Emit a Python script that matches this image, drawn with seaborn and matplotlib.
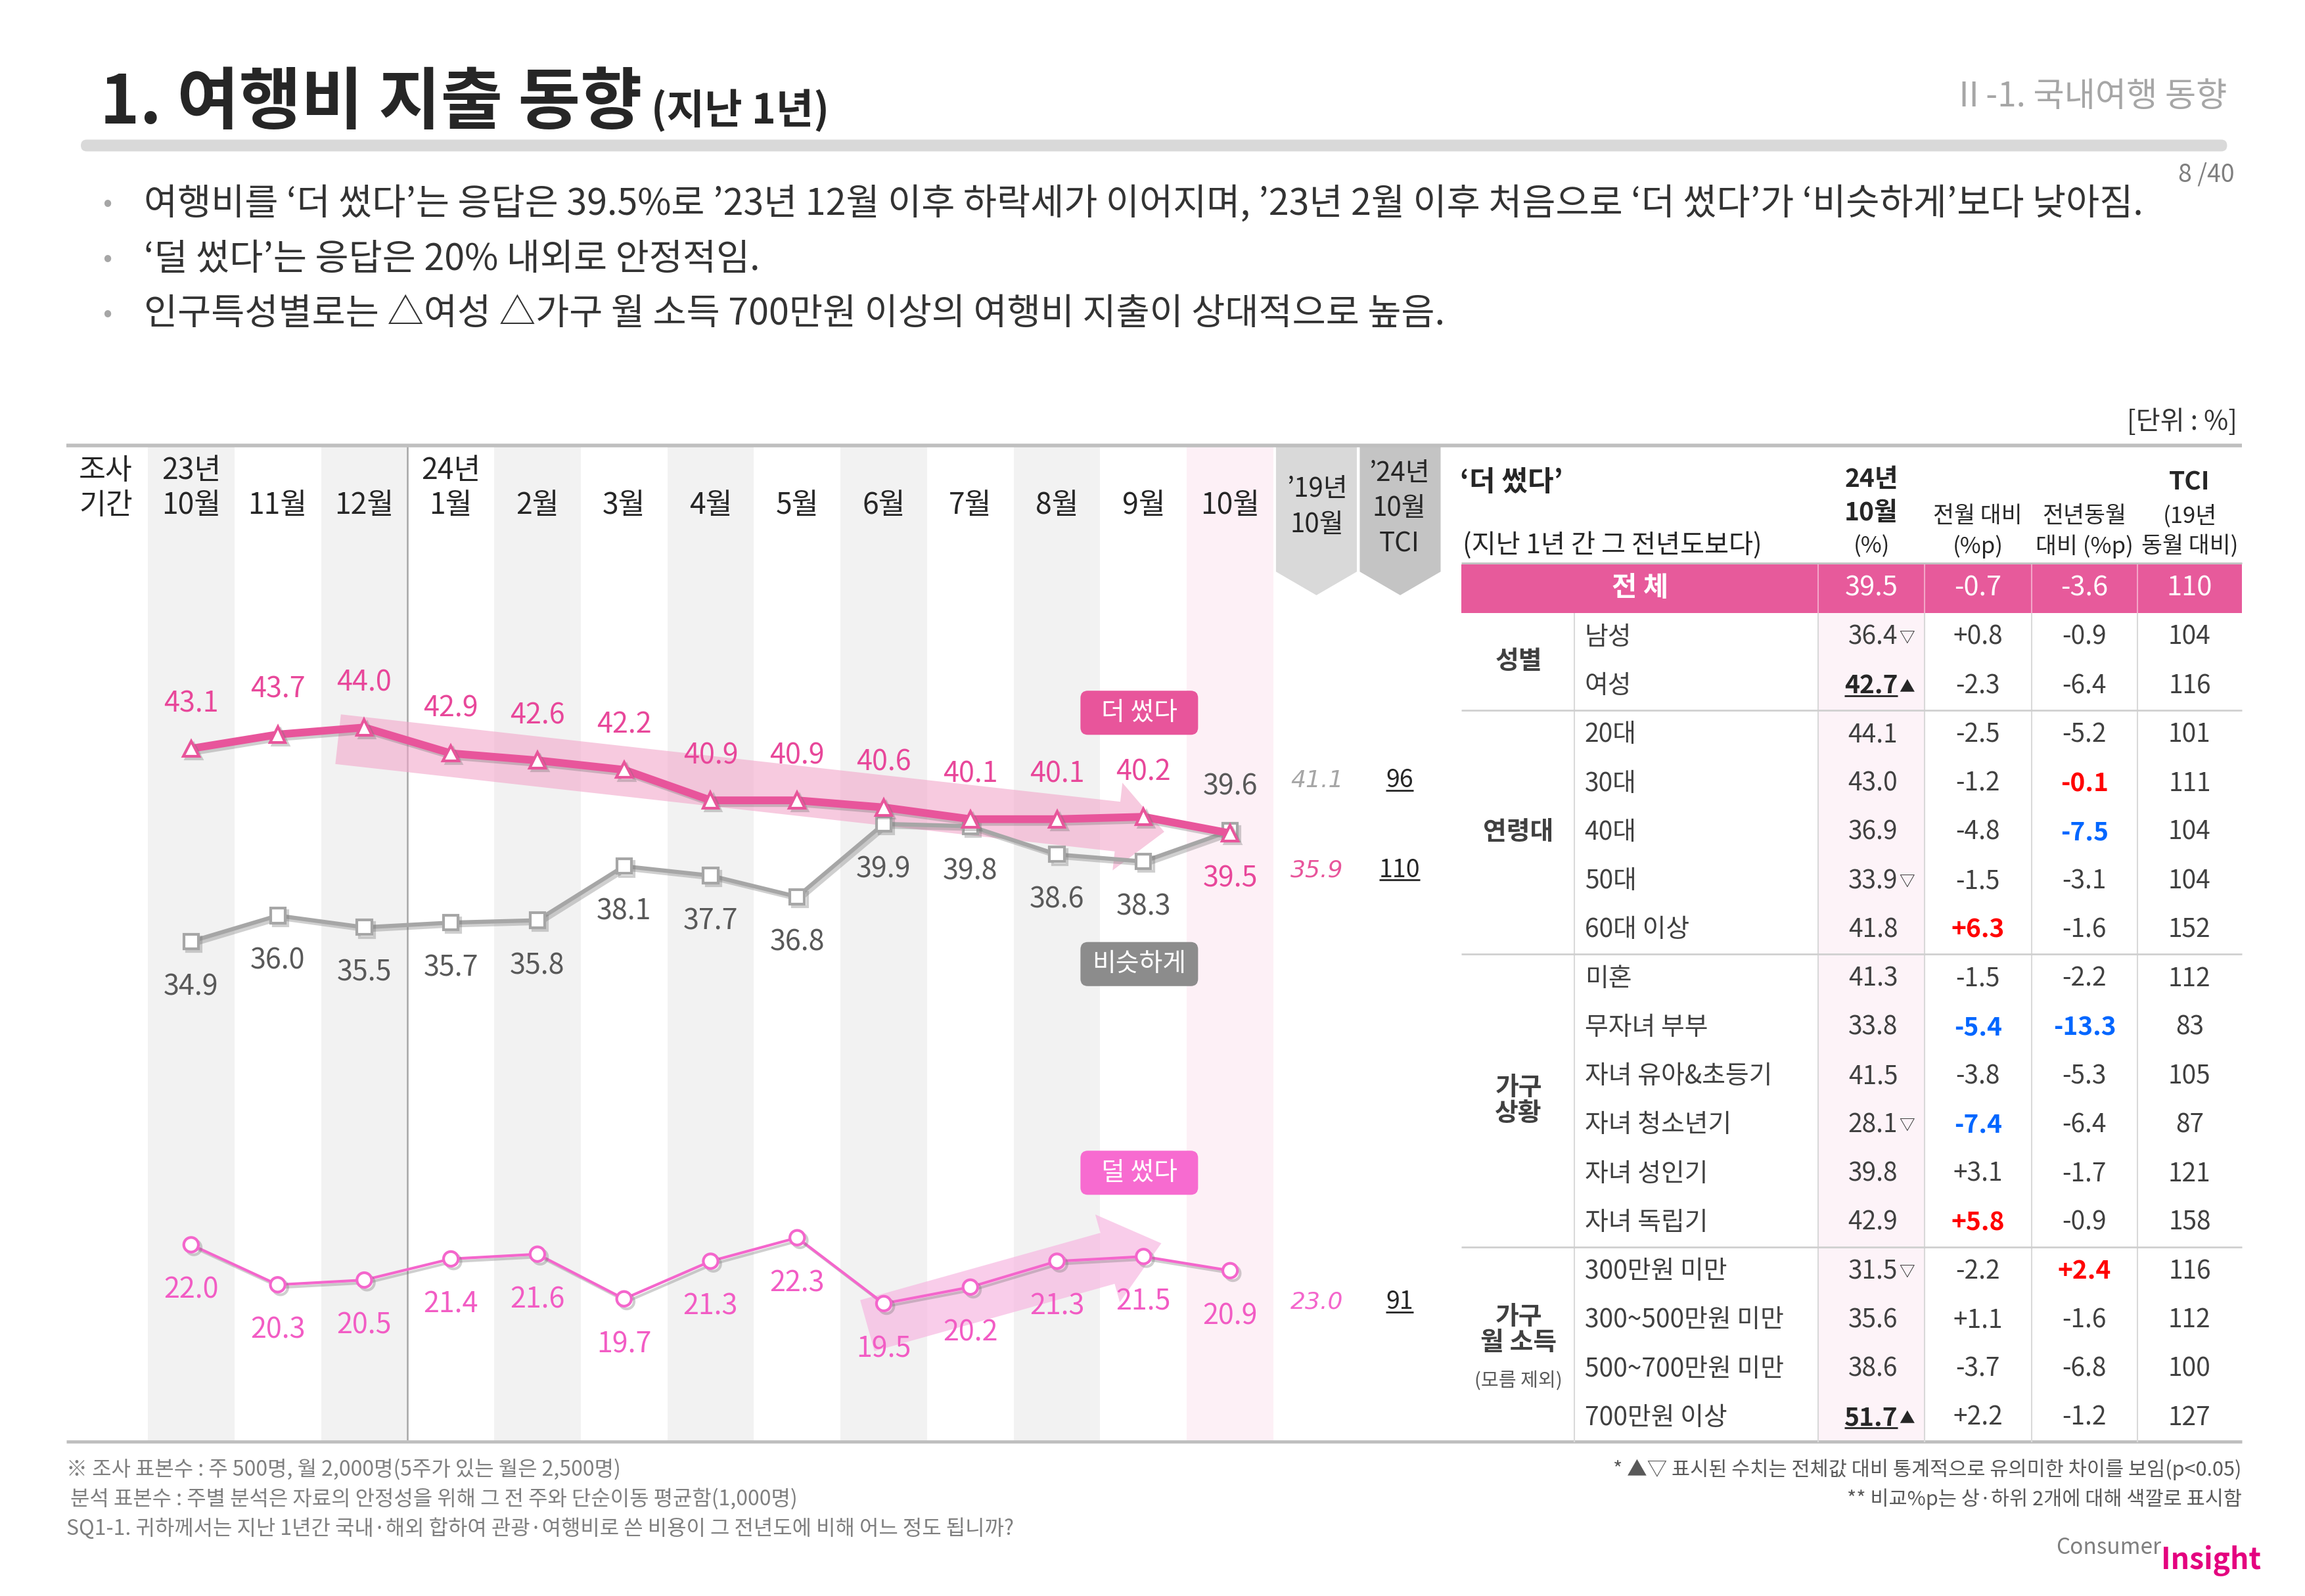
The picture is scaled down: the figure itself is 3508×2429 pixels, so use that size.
import numpy as np
import pandas as pd
import matplotlib.pyplot as plt
import matplotlib.patheffects as pe
from matplotlib.patches import FancyBboxPatch, FancyArrow, Polygon, Rectangle
import seaborn as sns

sns.set_theme(style='white')
# set_theme 이후에 폰트 지정 (한글 + 기호 대체)
plt.rcParams['font.family'] = ['Noto Sans CJK KR', 'DejaVu Sans']
plt.rcParams['axes.unicode_minus'] = False

# ---------------- 데이터 ----------------
year_tags = ['23년', '', '', '24년', '', '', '', '', '', '', '', '', '']
months = ['10월', '11월', '12월', '1월', '2월', '3월', '4월', '5월', '6월', '7월', '8월', '9월', '10월']
more = [43.1, 43.7, 44.0, 42.9, 42.6, 42.2, 40.9, 40.9, 40.6, 40.1, 40.1, 40.2, 39.5]   # 더 썼다
same = [34.9, 36.0, 35.5, 35.7, 35.8, 38.1, 37.7, 36.8, 39.9, 39.8, 38.6, 38.3, 39.6]   # 비슷하게
less = [22.0, 20.3, 20.5, 21.4, 21.6, 19.7, 21.3, 22.3, 19.5, 20.2, 21.3, 21.5, 20.9]   # 덜 썼다
base19 = [41.1, 35.9, 23.0]   # '19년 10월 (비슷하게, 더 썼다, 덜 썼다)
tci24 = [96, 110, 91]         # '24년 10월 TCI

total_row = [39.5, -0.7, -3.6, 110]
group_names = ['성별', '연령대', '가구\n상황', '가구\n월 소득']
group_sizes = [2, 5, 6, 4]
row_labels = ['남성', '여성', '20대', '30대', '40대', '50대', '60대 이상',
              '미혼', '무자녀 부부', '자녀 유아&초등기', '자녀 청소년기', '자녀 성인기', '자녀 독립기',
              '300만원 미만', '300~500만원 미만', '500~700만원 미만', '700만원 이상']
oct24 = [36.4, 42.7, 44.1, 43.0, 36.9, 33.9, 41.8, 41.3, 33.8, 41.5, 28.1, 39.8, 42.9, 31.5, 35.6, 38.6, 51.7]
sig_marks = ['▽', '▲', '', '', '', '▽', '', '', '', '', '▽', '', '', '▽', '', '', '▲']
mom = [0.8, -2.3, -2.5, -1.2, -4.8, -1.5, 6.3, -1.5, -5.4, -3.8, -7.4, 3.1, 5.8, -2.2, 1.1, -3.7, 2.2]
yoy = [-0.9, -6.4, -5.2, -0.1, -7.5, -3.1, -1.6, -2.2, -13.3, -5.3, -6.4, -1.7, -0.9, 2.4, -1.6, -6.8, -1.2]
tci = [104, 116, 101, 111, 104, 104, 152, 112, 83, 105, 87, 121, 158, 116, 112, 100, 127]

PINK = '#e8559b'
MAGENTA = '#f466cc'
GRAY = '#a6a6a6'
TXT = '#404040'

# ---------------- 캔버스 ----------------
W, H = 1568, 1086   # 배치용 좌표계
fig = plt.figure(figsize=(35.08, 24.29), dpi=100)
ov = fig.add_axes([0, 0, 1, 1], zorder=5)
ov.set_xlim(0, W)
ov.set_ylim(H, 0)
ov.axis('off')

def T(x, y, s, size, color=TXT, ha='center', va='center', weight='normal', **kw):
    return ov.text(x, y, s, fontsize=size, color=color, ha=ha, va=va, fontweight=weight, **kw)

def hline(y, x0, x1, color, lw):
    ov.plot([x0, x1], [y, y], color=color, lw=lw, solid_capstyle='butt')

def vline(x, y0, y1, color, lw):
    ov.plot([x, x], [y0, y1], color=color, lw=lw, solid_capstyle='butt')

underlines = []

# 제목
T(68, 84, '1. 여행비 지출 동향', 74, '#262626', ha='left', va='baseline', weight='bold')
T(443, 84, '(지난 1년)', 45, '#262626', ha='left', va='baseline', weight='bold')
T(1515, 66, 'Ⅱ-1. 국내여행 동향', 37, GRAY, ha='right')
ov.add_patch(FancyBboxPatch((55, 95), 1460, 8, boxstyle='round,pad=0,rounding_size=4',
                            fc='#d9d9d9', ec='none'))
T(1520, 119, '8 /40', 27, '#7f7f7f', ha='right')

bullets = ['여행비를 ‘더 썼다’는 응답은 39.5%로 ’23년 12월 이후 하락세가 이어지며, ’23년 2월 이후 처음으로 ‘더 썼다’가 ‘비슷하게’보다 낮아짐.',
           '‘덜 썼다’는 응답은 20% 내외로 안정적임.',
           '인구특성별로는 △여성 △가구 월 소득 700만원 이상의 여행비 지출이 상대적으로 높음.']
for k, s in enumerate(bullets):
    yb = 139 + 37.5 * k
    T(73, yb, '•', 30, GRAY)
    T(98, yb, s, 40, '#333333', ha='left')

T(1522, 287, '[단위 : %]', 29, '#333333', ha='right')

# ---------------- 추이 차트 ----------------
CL, CR, CT, CB = 45, 985, 303, 980
X0, DX = 130, 58.9
Y0, V0, DY = 495, 44.0, 16.0
ax = fig.add_axes([CL / W, 1 - CB / H, (CR - CL) / W, (CB - CT) / H], zorder=1)
n = len(months)

for i in range(n):
    if i == n - 1:
        ax.axvspan(i - 0.5, i + 0.5, color='#fdf0f6', lw=0, zorder=0)
    elif i % 2 == 0:
        ax.axvspan(i - 0.5, i + 0.5, color='#f2f2f2', lw=0, zorder=0)
new_year = [i for i, t in enumerate(year_tags) if t][1]
ax.axvline(new_year - 0.5, color=GRAY, lw=1.8, zorder=1)

# 추세 화살표 (배치 좌표)
ax.add_patch(FancyArrow(230, 503, 562, 63, width=34, head_width=60, head_length=32,
                        length_includes_head=True, fc='#f2a7cb', ec='none', alpha=0.6,
                        transform=ov.transData, zorder=1.5))
ax.add_patch(FancyArrow(590, 902, 200, -56, width=36, head_width=62, head_length=38,
                        length_includes_head=True, fc='#f7b3e0', ec='none', alpha=0.65,
                        transform=ov.transData, zorder=1.5))

df = pd.DataFrame({'idx': np.arange(n), 'more': more, 'same': same, 'less': less})
shadow = [pe.SimpleLineShadow(offset=(3, -3), shadow_color='#777777', alpha=0.35), pe.Normal()]

sns.lineplot(data=df, x='idx', y='same', ax=ax, color=GRAY, linewidth=4.5, marker='s',
             markersize=16, markerfacecolor='white', markeredgecolor=GRAY, markeredgewidth=3,
             errorbar=None, zorder=3)
ax.lines[-1].set_path_effects(shadow)
sns.lineplot(data=df, x='idx', y='more', ax=ax, color=PINK, linewidth=8.5, marker='^',
             markersize=17, markerfacecolor='white', markeredgecolor=PINK, markeredgewidth=3,
             errorbar=None, zorder=4)
ax.lines[-1].set_path_effects(shadow)
sns.lineplot(data=df, x='idx', y='less', ax=ax, color=MAGENTA, linewidth=3, marker='o',
             markersize=16, markerfacecolor='white', markeredgecolor=MAGENTA, markeredgewidth=3,
             errorbar=None, zorder=3)
ax.lines[-1].set_path_effects(shadow)

# 값 라벨 (더 썼다: 위, 비슷하게/덜 썼다: 아래, 마지막 달은 반대)
for i in range(n):
    last = i == n - 1
    ax.annotate(f'{more[i]:.1f}', (i, more[i]), xytext=(0, -50 if last else 49),
                textcoords='offset points', ha='center', va='center', fontsize=31, color='#e8479a')
    ax.annotate(f'{same[i]:.1f}', (i, same[i]), xytext=(0, 48 if last else -50),
                textcoords='offset points', ha='center', va='center', fontsize=31, color='#595959')
    ax.annotate(f'{less[i]:.1f}', (i, less[i]), xytext=(0, -50),
                textcoords='offset points', ha='center', va='center', fontsize=31, color='#f25cc4')

ax.set_xlim((CL - X0) / DX, (CR - X0) / DX)
ax.set_ylim(V0 - (CB - Y0) / DY, V0 - (CT - Y0) / DY)
ax.axis('off')

# 차트 머리글
T(72, 320, '조사', 32, '#262626', weight='medium')
T(72, 344, '기간', 32, '#262626', weight='medium')
for i in range(n):
    xc = X0 + DX * i
    if year_tags[i]:
        T(xc, 320, year_tags[i], 32, '#262626', weight='medium')
    T(xc, 344, months[i], 32, '#262626', weight='medium')

ov.add_patch(Polygon([(868, 303), (923, 303), (923, 389), (895.5, 405), (868, 389)],
                     closed=True, fc='#d9d9d9', ec='none'))
ov.add_patch(Polygon([(925, 303), (980, 303), (980, 389), (952.5, 405), (925, 389)],
                     closed=True, fc='#c4c4c4', ec='none'))
T(896, 333, '’19년', 29, '#262626', weight='medium')
T(896, 357, '10월', 29, '#262626', weight='medium')
T(952, 322, '’24년', 29, '#262626', weight='medium')
T(952, 346, '10월', 29, '#262626', weight='medium')
T(952, 370, 'TCI', 29, '#262626', weight='medium')

col19_y = [531, 592, 886]
col19_c = [GRAY, PINK, MAGENTA]
for v, t, yy, c in zip(base19, tci24, col19_y, col19_c):
    T(896, yy, f'{v:.1f}', 26, c, style='italic', family=['DejaVu Sans'])
    underlines.append(T(952, yy, f'{t}', 27, '#262626'))

# 범례 태그
for (yc, s, c) in [(485, '더 썼다', PINK), (656, '비슷하게', '#8c8c8c'), (798, '덜 썼다', '#f76bd0')]:
    ov.add_patch(FancyBboxPatch((735, yc - 15), 80, 30, boxstyle='round,pad=0,rounding_size=5',
                                fc=c, ec='none'))
    T(775, yc, s, 28, 'white')

# 테두리 선
hline(303, 45, 1525, '#bfbfbf', 4)
hline(981, 45, 1525, '#bfbfbf', 3.5)

# ---------------- 표 ----------------
cols = [994, 1071, 1237, 1309, 1382, 1454, 1525]
cx = [(cols[k] + cols[k + 1]) / 2 for k in range(2, 6)]
ROW0, RH = 417, 33.2
nrows = len(row_labels)
ybot = ROW0 + RH * nrows

ov.add_patch(Rectangle((cols[2], ROW0), cols[3] - cols[2], ybot - ROW0, fc='#fdf3f8', ec='none'))
ov.add_patch(Rectangle((cols[0], 384), cols[-1] - cols[0], ROW0 - 384, fc='#e75a9b', ec='none'))
hline(383, cols[0], cols[-1], '#bfbfbf', 2)
vline(cols[1], ROW0, ybot, '#d9d9d9', 1.5)
for x in cols[2:6]:
    vline(x, ROW0, ybot, '#d9d9d9', 1.5)
    vline(x, 384, ROW0, '#f3a6c8', 1.5)

T(993, 328, '‘더 썼다’', 31, '#262626', ha='left', weight='bold')
T(995, 371, '(지난 1년 간 그 전년도보다)', 29, '#262626', ha='left')
T(cx[0], 326, '24년', 28, '#262626', weight='bold')
T(cx[0], 349, '10월', 28, '#262626', weight='bold')
T(cx[0], 372, '(%)', 25, '#262626')
T(cx[1], 351, '전월 대비', 25, '#262626')
T(cx[1], 372, '(%p)', 25, '#262626')
T(cx[2], 351, '전년동월', 25, '#262626')
T(cx[2], 372, '대비 (%p)', 25, '#262626')
T(cx[3], 328, 'TCI', 28, '#262626', weight='bold')
T(cx[3], 351, '(19년', 25, '#262626')
T(cx[3], 372, '동월 대비)', 25, '#262626')

T((cols[0] + cols[2]) / 2, 400, '전 체', 30, 'white', weight='bold')
T(cx[0], 400, f'{total_row[0]:.1f}', 30, 'white')
T(cx[1], 400, f'{total_row[1]:+.1f}', 30, 'white')
T(cx[2], 400, f'{total_row[2]:+.1f}', 30, 'white')
T(cx[3], 400, f'{total_row[3]}', 30, 'white')

mom_hi, mom_lo = np.argsort(mom)[-2:], np.argsort(mom)[:2]
yoy_hi, yoy_lo = np.argsort(yoy)[-2:], np.argsort(yoy)[:2]

start = 0
for g, size in zip(group_names, group_sizes):
    yc = ROW0 + RH * (start + size / 2)
    if g.startswith('가구\n월'):
        T(1033, yc - 10, g, 28, TXT, weight='bold', linespacing=1.0)
        T(1033, yc + 25, '(모름 제외)', 21, '#595959')
    else:
        T(1033, yc, g, 28, TXT, weight='bold', linespacing=1.0)
    start += size
    if start < nrows:
        hline(ROW0 + RH * start, cols[0], cols[-1], '#d0d0d0', 2)

for r in range(nrows):
    yc = ROW0 + RH * (r + 0.5)
    T(1078, yc, row_labels[r], 28, TXT, ha='left')
    bold = sig_marks[r] == '▲'
    t = T(1291, yc, f'{oct24[r]:.1f}', 28, '#262626' if bold else TXT, ha='right',
          weight='bold' if bold else 'normal')
    if bold:
        underlines.append(t)
    if sig_marks[r]:
        T(1292, yc + 1, sig_marks[r], 17, '#262626', ha='left')
    for vals, hi, lo, x in [(mom, mom_hi, mom_lo, cx[1]), (yoy, yoy_hi, yoy_lo, cx[2])]:
        if r in hi:
            T(x, yc, f'{vals[r]:+.1f}', 28, '#ff0000', weight='bold')
        elif r in lo:
            T(x, yc, f'{vals[r]:+.1f}', 28, '#0066ff', weight='bold')
        else:
            T(x, yc, f'{vals[r]:+.1f}', 28, TXT)
    T(cx[3], yc, f'{tci[r]}', 28, TXT)

# ---------------- 각주 ----------------
T(45, 1000, '※ 조사 표본수 : 주 500명, 월 2,000명(5주가 있는 월은 2,500명)', 23, '#7f7f7f', ha='left')
T(48, 1020, '분석 표본수 : 주별 분석은 자료의 안정성을 위해 그 전 주와 단순이동 평균함(1,000명)', 23, '#7f7f7f', ha='left')
T(45, 1040, 'SQ1-1. 귀하께서는 지난 1년간 국내·해외 합하여 관광·여행비로 쓴 비용이 그 전년도에 비해 어느 정도 됩니까?', 23, '#7f7f7f', ha='left')
T(1525, 1000, '* ▲▽ 표시된 수치는 전체값 대비 통계적으로 유의미한 차이를 보임(p<0.05)', 22, '#595959', ha='right')
T(1525, 1020, '** 비교%p는 상·하위 2개에 대해 색깔로 표시함', 22, '#595959', ha='right')

T(1470, 1053, 'Consumer', 24, '#7f7f7f', ha='right')
T(1470, 1062, 'Insight', 32, '#e4007f', ha='left', weight='bold')

# 밑줄
fig.canvas.draw()
rend = fig.canvas.get_renderer()
inv = ov.transData.inverted()
for t in underlines:
    bb = t.get_window_extent(rend)
    (x0, y0), (x1, y1) = inv.transform([[bb.x0, bb.y0], [bb.x1, bb.y1]])
    hline(max(y0, y1) - 2, x0, x1, '#262626', 2)

fig.savefig('out.png', dpi=100)
